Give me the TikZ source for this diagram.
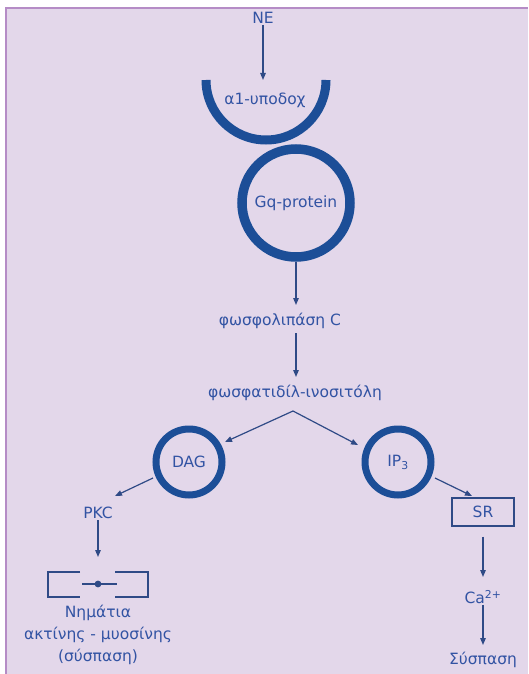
\documentclass[tikz,border=0pt]{standalone}
\usepackage{fontspec}
\setmainfont{DejaVu Sans}
\usetikzlibrary{arrows.meta}
\definecolor{bgc}{HTML}{E3D7EA}
\definecolor{framec}{HTML}{B58CC6}
\definecolor{ringc}{HTML}{1C4E97}
\definecolor{txtc}{HTML}{3253A3}
\definecolor{arrc}{HTML}{2F4A86}
\begin{document}
\begin{tikzpicture}[x=1pt,y=1pt,
  lbl/.style={text=txtc,font=\fontsize{15.5}{18}\selectfont,inner sep=1pt},
  ring/.style={circle,draw=ringc,text=txtc,font=\fontsize{15.5}{18}\selectfont,inner sep=0pt},
  conn/.style={draw=arrc,line width=1.2pt,-{Triangle[length=7pt,width=5.5pt]}},
  plain/.style={draw=arrc,line width=1.2pt}]
\useasboundingbox (0,0) rectangle (528,-674);
\fill[white] (0,0) rectangle (528,-674);
\fill[bgc] (6,-8) rectangle (528,-674);
\draw[framec,line width=2.5pt] (6,-674) -- (6,-8) -- (528,-8);
% receptor
\draw[ringc,line width=9pt] (206,-80) arc[start angle=180,end angle=360,radius=60];
\node[lbl] (ne) at (263,-18) {NE};
\node[lbl] (rec) at (265,-100) {α1-υποδοχ};
\coordinate (recin) at (263,-80);
\node[ring,line width=9.5pt,minimum size=108pt] (gq) at (296,-203) {Gq-protein};
\node[lbl] (plc) at (280,-321) {φωσφολιπάση C};
\node[lbl] (pip) at (295,-393) {φωσφατιδίλ-ινοσιτόλη};
\coordinate (apex) at (293,-411);
\node[ring,line width=7pt,minimum size=66pt] (dag) at (189,-462) {DAG};
\node[ring,line width=7pt,minimum size=66pt] (ip3) at (398,-462) {IP\textsubscript{3}};
\node[lbl] (pkc) at (98,-513) {PKC};
\node[draw=arrc,line width=1.3pt,text=txtc,font=\fontsize{15.5}{18}\selectfont,minimum width=62pt,minimum height=28pt,inner sep=0pt] (sr) at (483,-512) {SR};
\node[lbl] (ca) at (483,-597) {Ca\textsuperscript{2+}};
\node[lbl] (sys) at (483,-660) {Σύσπαση};
\coordinate (fil) at (98,-584);
\node[lbl,align=center,font=\fontsize{15.5}{22}\selectfont] (fiber) at (98,-635) {Νημάτια\\ακτίνης - μυοσίνης\\(σύσπαση)};
% arrows
\draw[conn] (ne.south) -- (recin);
\draw[conn] (gq.south) -- (296,-305);
\draw[conn] (296,-333) -- (296,-377);
\draw[conn] (apex) -- (225,-442);
\draw[conn] (apex) -- (358,-445);
\draw[conn] (153,-478) -- (115,-496);
\draw[conn] (435,-478) -- (472,-496);
\draw[conn] (pkc.south) -- (98,-557);
\draw[conn] (sr.south) ++(0,-10) -- (483,-577);
\draw[conn] (ca.south) -- (483,-645);
% filament symbol
\draw[plain] (80,-572) -- (48,-572) -- (48,-597) -- (80,-597);
\draw[plain] (115,-572) -- (148,-572) -- (148,-597) -- (115,-597);
\draw[plain] (82,-584) -- (117,-584);
\fill[arrc] (fil) circle (3.4pt);
\end{tikzpicture}
\end{document}
